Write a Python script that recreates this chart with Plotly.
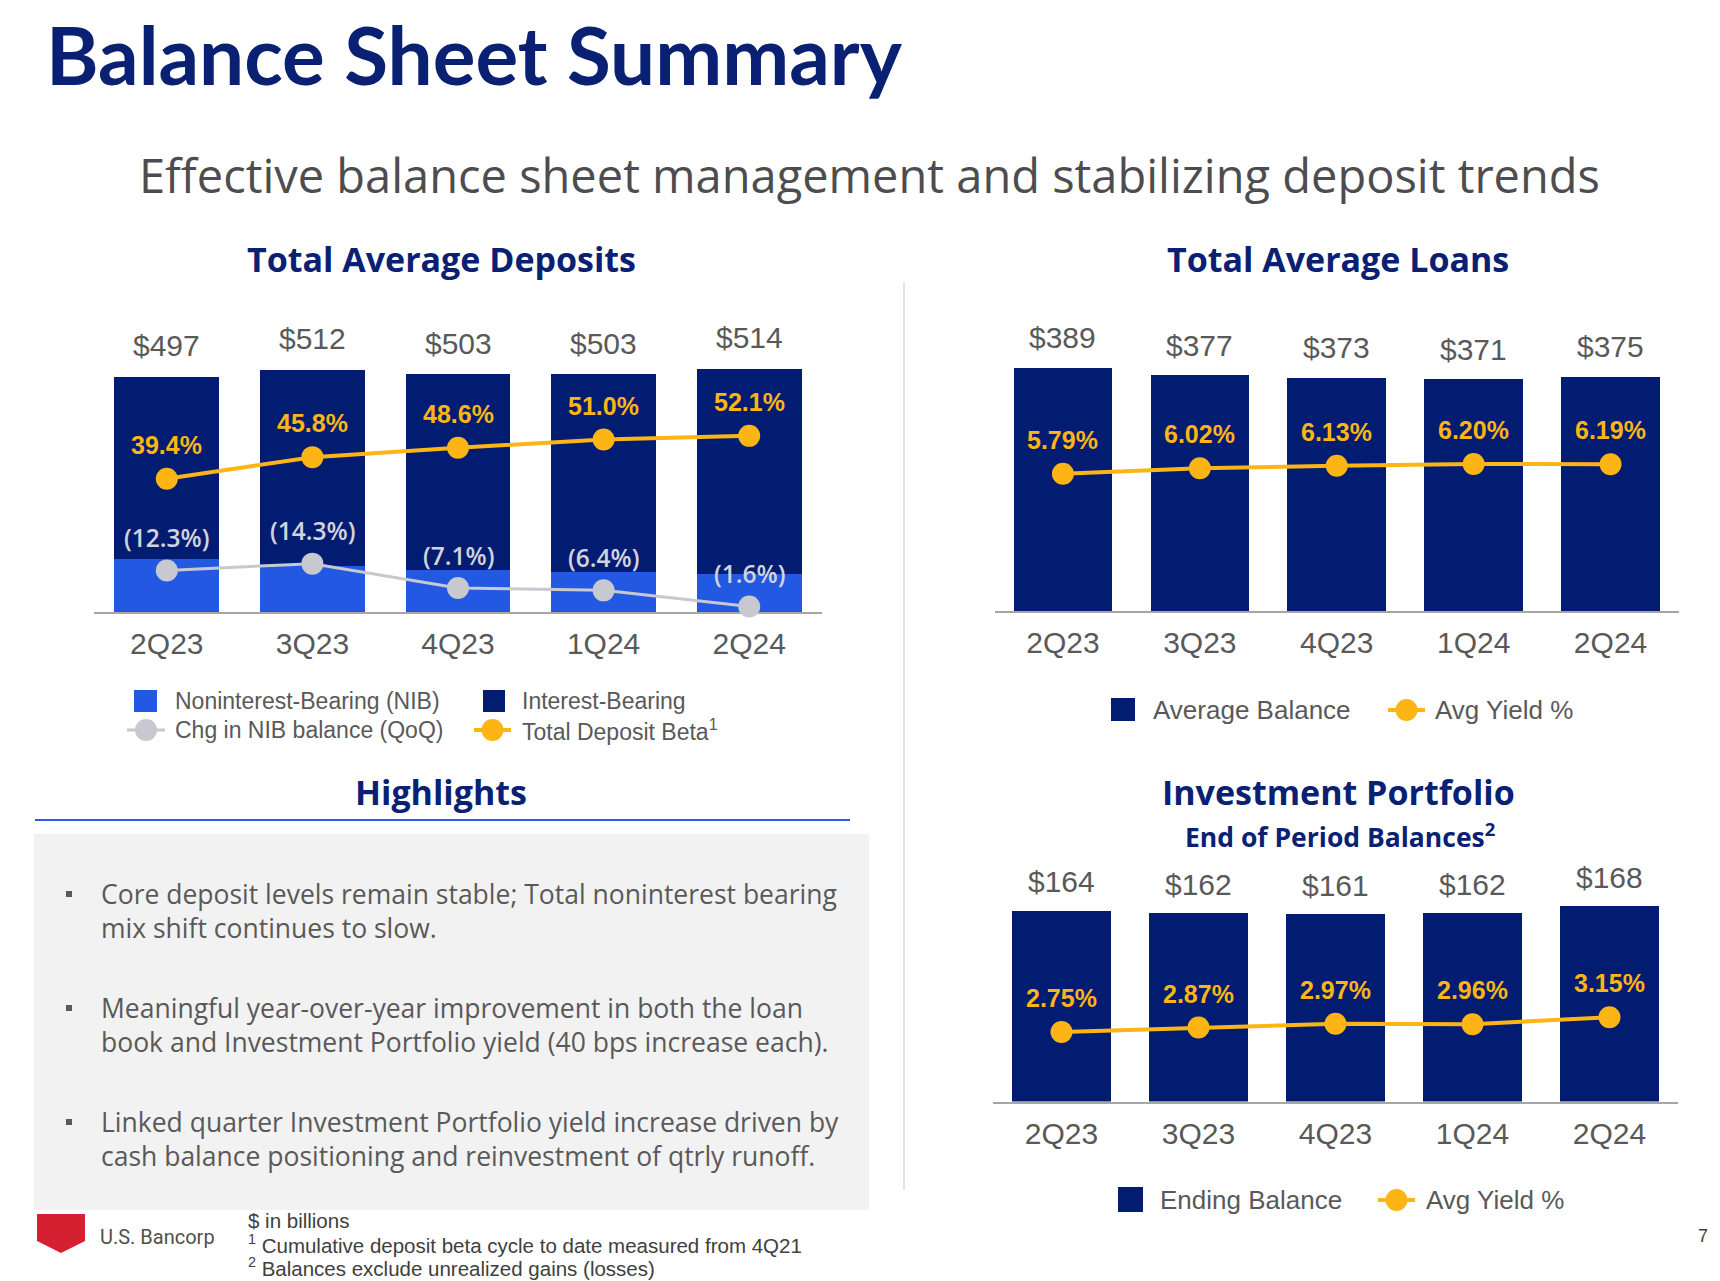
import plotly.graph_objects as go

W, H = 1720, 1281

# ---------------- data ----------------
quarters = ["2Q23", "3Q23", "4Q23", "1Q24", "2Q24"]
dep_total = [497, 512, 503, 503, 514]
dep_nib = [113, 97, 89, 84, 80]
dep_ib = [384, 415, 414, 419, 434]
nib_chg = [-12.3, -14.3, -7.1, -6.4, -1.6]
dep_beta = [39.4, 45.8, 48.6, 51.0, 52.1]
loan_bal = [389, 377, 373, 371, 375]
loan_yield = [5.79, 6.02, 6.13, 6.20, 6.19]
inv_bal = [164, 162, 161, 162, 168]
inv_yield = [2.75, 2.87, 2.97, 2.96, 3.15]

bullets = [
    "Core deposit levels remain stable; Total noninterest bearing<br>mix shift continues to slow.",
    "Meaningful year-over-year improvement in both the loan<br>book and Investment Portfolio yield (40 bps increase each).",
    "Linked quarter Investment Portfolio yield increase driven by<br>cash balance positioning and reinvestment of qtrly runoff.",
]

# ---------------- style ----------------
NAVY = "#021C72"
NIB_BLUE = "#2359E2"
ORANGE = "#FDB515"
GRAY_LINE = "#C8C8D0"
CHG_TXT = "#D3D3DD"
TITLE_NAVY = "#0A2173"
TEXT_GRAY = "#595959"
NUM_FONT = "Liberation Sans, Arial, sans-serif"
HEAD_FONT = "Open Sans, Noto Sans, sans-serif"
TITLE_FONT = "Lato, Inter, sans-serif"


def X(px):
    return px / W


def Y(py):
    return 1 - py / H


fig = go.Figure()

# Deposits
fig.add_trace(go.Bar(x=quarters, y=dep_nib, marker=dict(color=NIB_BLUE, line_width=0),
                     xaxis="x", yaxis="y", name="Noninterest-Bearing (NIB)"))
fig.add_trace(go.Bar(x=quarters, y=dep_ib, marker=dict(color=NAVY, line_width=0),
                     xaxis="x", yaxis="y", name="Interest-Bearing"))
fig.add_trace(go.Scatter(x=quarters, y=[abs(v) for v in nib_chg], mode="lines+markers",
                         line=dict(color=GRAY_LINE, width=3), marker=dict(size=22, color=GRAY_LINE),
                         xaxis="x", yaxis="y2", cliponaxis=False, name="Chg in NIB balance (QoQ)"))
fig.add_trace(go.Scatter(x=quarters, y=dep_beta, mode="lines+markers",
                         line=dict(color=ORANGE, width=4), marker=dict(size=22, color=ORANGE),
                         xaxis="x", yaxis="y2", cliponaxis=False, name="Total Deposit Beta"))
# Loans
fig.add_trace(go.Bar(x=quarters, y=loan_bal, marker=dict(color=NAVY, line_width=0),
                     xaxis="x2", yaxis="y3", name="Average Balance"))
fig.add_trace(go.Scatter(x=quarters, y=loan_yield, mode="lines+markers",
                         line=dict(color=ORANGE, width=4), marker=dict(size=22, color=ORANGE),
                         xaxis="x2", yaxis="y4", cliponaxis=False, name="Avg Yield %"))
# Investment portfolio
fig.add_trace(go.Bar(x=quarters, y=inv_bal, marker=dict(color=NAVY, line_width=0),
                     xaxis="x3", yaxis="y5", name="Ending Balance"))
fig.add_trace(go.Scatter(x=quarters, y=inv_yield, mode="lines+markers",
                         line=dict(color=ORANGE, width=4), marker=dict(size=22, color=ORANGE),
                         xaxis="x3", yaxis="y6", cliponaxis=False, name="Avg Yield %"))

xcommon = dict(showline=True, linecolor="#A6A6A6", linewidth=2, showgrid=False, zeroline=False,
               ticks="outside", ticklen=4, tickcolor="rgba(0,0,0,0)",
               tickfont=dict(family=NUM_FONT, size=30, color=TEXT_GRAY), layer="below traces",
               fixedrange=True)
ycommon = dict(visible=False, showgrid=False, zeroline=False, fixedrange=True)

annotations = []
shapes = []


def text(px, py, s, size, color, family=NUM_FONT, xanchor="left", yanchor="middle", weight=None):
    font = dict(family=family, size=size, color=color)
    if weight:
        font["weight"] = weight
    annotations.append(dict(x=X(px), y=Y(py), xref="paper", yref="paper", text=s, showarrow=False,
                            xanchor=xanchor, yanchor=yanchor, align="left", font=font))


# Headings
text(44, 54, "<b>Balance Sheet Summary</b>", 80, TITLE_NAVY, TITLE_FONT)
text(869, 175, "Effective balance sheet management and stabilizing deposit trends", 47, "#4D4D4F",
     HEAD_FONT, xanchor="center")
text(442, 259, "<b>Total Average Deposits</b>", 34, TITLE_NAVY, HEAD_FONT, xanchor="center")
text(1338, 259, "<b>Total Average Loans</b>", 34, TITLE_NAVY, HEAD_FONT, xanchor="center")
text(441, 792, "<b>Highlights</b>", 34, TITLE_NAVY, HEAD_FONT, xanchor="center")
text(1338, 792, "<b>Investment Portfolio</b>", 34, TITLE_NAVY, HEAD_FONT, xanchor="center")
text(1340, 836, "<b>End of Period Balances<sup>2</sup></b>", 26.5, TITLE_NAVY, HEAD_FONT, xanchor="center")

# Data labels
for q, t, c, b in zip(quarters, dep_total, nib_chg, dep_beta):
    annotations.append(dict(x=q, y=t, xref="x", yref="y", text=f"${t}", showarrow=False, yshift=31,
                            font=dict(family=NUM_FONT, size=30, color=TEXT_GRAY)))
    annotations.append(dict(x=q, y=b, xref="x", yref="y2", text=f"<b>{b:.1f}%</b>", showarrow=False,
                            yshift=34, font=dict(family=NUM_FONT, size=25, color=ORANGE)))
    annotations.append(dict(x=q, y=abs(c), xref="x", yref="y2", text=f"({abs(c):.1f}%)", showarrow=False,
                            yshift=33, font=dict(family=HEAD_FONT, size=24.5, color=CHG_TXT, weight=600)))
for q, v, yl in zip(quarters, loan_bal, loan_yield):
    annotations.append(dict(x=q, y=v, xref="x2", yref="y3", text=f"${v}", showarrow=False, yshift=30,
                            font=dict(family=NUM_FONT, size=30, color=TEXT_GRAY)))
    annotations.append(dict(x=q, y=yl, xref="x2", yref="y4", text=f"<b>{yl:.2f}%</b>", showarrow=False,
                            yshift=34, font=dict(family=NUM_FONT, size=25, color=ORANGE)))
for q, v, yl in zip(quarters, inv_bal, inv_yield):
    annotations.append(dict(x=q, y=v, xref="x3", yref="y5", text=f"${v}", showarrow=False, yshift=29,
                            font=dict(family=NUM_FONT, size=30, color=TEXT_GRAY)))
    annotations.append(dict(x=q, y=yl, xref="x3", yref="y6", text=f"<b>{yl:.2f}%</b>", showarrow=False,
                            yshift=34, font=dict(family=NUM_FONT, size=25, color=ORANGE)))


# Legends (drawn manually)
def rect(x0, y0, x1, y1, color, layer="above"):
    shapes.append(dict(type="rect", xref="paper", yref="paper", x0=X(x0), x1=X(x1), y0=Y(y1), y1=Y(y0),
                       fillcolor=color, line_width=0, layer=layer))


def line_marker(x0, x1, y, color, lw=4):
    shapes.append(dict(type="line", xref="paper", yref="paper", x0=X(x0), x1=X(x1), y0=Y(y), y1=Y(y),
                       line=dict(color=color, width=lw)))
    cx = (x0 + x1) / 2
    shapes.append(dict(type="circle", xref="paper", yref="paper", x0=X(cx - 11), x1=X(cx + 11),
                       y0=Y(y + 11), y1=Y(y - 11), fillcolor=color, line_width=0))


rect(134, 690, 157, 712, NIB_BLUE)
text(173, 701, "Noninterest-Bearing (NIB)", 23, TEXT_GRAY)
rect(483, 690, 505, 712, NAVY)
text(520, 701, "Interest-Bearing", 23, TEXT_GRAY)
line_marker(127, 165, 730, GRAY_LINE, 3)
text(173, 730, "Chg in NIB balance (QoQ)", 23, TEXT_GRAY)
line_marker(474, 511, 730, ORANGE)
text(520, 730, "Total Deposit Beta<sup>1</sup>", 23, TEXT_GRAY)

rect(1111, 698, 1135, 721, NAVY)
text(1151, 710, "Average Balance", 26, TEXT_GRAY)
line_marker(1388, 1425, 710, ORANGE)
text(1433, 710, "Avg Yield %", 26, TEXT_GRAY)

rect(1118, 1187, 1143, 1212, NAVY)
text(1158, 1200, "Ending Balance", 26, TEXT_GRAY)
line_marker(1378, 1415, 1200, ORANGE)
text(1424, 1200, "Avg Yield %", 26, TEXT_GRAY)

# Divider, highlight box
shapes.append(dict(type="line", xref="paper", yref="paper", x0=X(904), x1=X(904), y0=Y(283), y1=Y(1190),
                   line=dict(color="#E3E3E3", width=2)))
shapes.append(dict(type="line", xref="paper", yref="paper", x0=X(35), x1=X(850), y0=Y(820), y1=Y(820),
                   line=dict(color="#2A5CE0", width=2)))
rect(34, 834, 869, 1210, "#F2F2F2", layer="below")
for i, b in enumerate(bullets):
    y0 = 894 + 114 * i
    rect(66, y0 - 3, 72, y0 + 3, TEXT_GRAY)
    text(99, y0 + 16.5, b, 26.5, TEXT_GRAY, HEAD_FONT)

# Footer
shapes.append(dict(type="path", xref="paper", yref="paper",
                   path=f"M {X(37)} {Y(1214)} L {X(85)} {Y(1214)} L {X(85)} {Y(1241)} "
                        f"L {X(61)} {Y(1253)} L {X(37)} {Y(1241)} Z",
                   fillcolor="#D42030", line_width=0))
text(98, 1237, "U.S. Bancorp", 20, "#505050", family="Roboto, Liberation Sans, sans-serif")
text(246, 1220, "$ in billions", 20.5, "#404040")
text(246, 1244, "<sup>1</sup> Cumulative deposit beta cycle to date measured from 4Q21", 20.5, "#404040")
text(246, 1267, "<sup>2</sup> Balances exclude unrealized gains (losses)", 20.5, "#404040")
text(1703, 1236, "7", 18, "#404040", xanchor="center")

fig.update_layout(
    width=W, height=H, margin=dict(l=0, r=0, t=0, b=0),
    paper_bgcolor="white", plot_bgcolor="rgba(0,0,0,0)",
    barmode="stack", bargap=0.28, showlegend=False,
    xaxis=dict(domain=[X(94), X(822)], anchor="y", **xcommon),
    yaxis=dict(domain=[Y(612), Y(328)], range=[0, 600.4], **ycommon),
    yaxis2=dict(overlaying="y", anchor="x", range=[0, 84.0], **ycommon),
    xaxis2=dict(domain=[X(994.5), X(1679)], anchor="y3", **xcommon),
    yaxis3=dict(domain=[Y(611), Y(327)], range=[0, 454.4], anchor="x2", **ycommon),
    yaxis4=dict(overlaying="y3", anchor="x2", range=[0, 11.98], **ycommon),
    xaxis3=dict(domain=[X(993), X(1678)], anchor="y5", **xcommon),
    yaxis5=dict(domain=[Y(1101.5), Y(817.5)], range=[0, 244.4], anchor="x3", **ycommon),
    yaxis6=dict(overlaying="y5", anchor="x3", range=[0.87, 8.55], **ycommon),
    annotations=annotations, shapes=shapes,
)

fig.write_html(
    "out.html",
    config={"displayModeBar": False},
    post_script="document.body.style.margin='0px';document.body.style.padding='0px';"
                "document.body.style.overflow='hidden';",
)
